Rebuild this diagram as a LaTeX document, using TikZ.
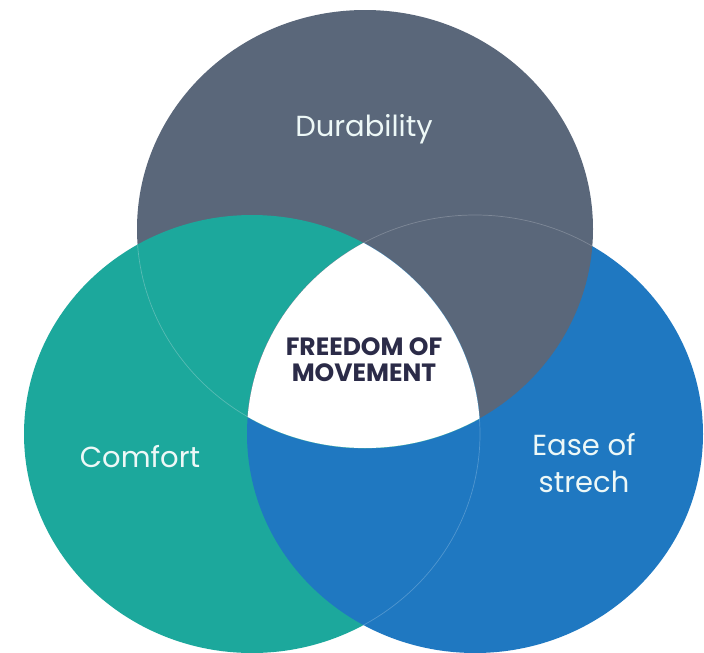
\documentclass[tikz,border=0pt]{standalone}
\usepackage{fontspec}
\setmainfont{Poppins}
\usetikzlibrary{positioning}

\definecolor{slategray}{HTML}{5A677A}
\definecolor{tealgreen}{HTML}{1CA89C}
\definecolor{strongblue}{HTML}{1F78C1}
\definecolor{inkblue}{HTML}{2B2B48}

\tikzset{
  label text/.style={text=white!92!tealgreen,font=\fontsize{29pt}{37pt}\selectfont,align=center,inner sep=0},
  core text/.style={text=inkblue,font=\fontsize{25pt}{26pt}\selectfont\bfseries,align=center,inner sep=0},
  seam/.style={line width=0.7pt}
}

\begin{document}
\begin{tikzpicture}[x=1pt,y=-1pt]
    \pgfmathsetmacro{\radiusx}{228}
    \pgfmathsetmacro{\radiusy}{219}
    \useasboundingbox[fill=white] (0,0) rectangle (704,653);
    \coordinate (durability) at (365,229);
    \coordinate (comfort) at (252,434);
    \coordinate (stretch) at (475,434);
    % base discs
    \fill[tealgreen] (comfort) ellipse (\radiusx pt and \radiusy pt);
    \fill[strongblue] (stretch) ellipse (\radiusx pt and \radiusy pt);
    \fill[slategray] (durability) ellipse (\radiusx pt and \radiusy pt);
    % teal lies over gray
    \begin{scope}
        \clip (durability) ellipse (\radiusx pt and \radiusy pt);
        \fill[tealgreen] (comfort) ellipse (\radiusx pt and \radiusy pt);
    \end{scope}
    % faint seams of the hidden edges
    \begin{scope}
        \clip (comfort) ellipse (\radiusx pt and \radiusy pt);
        \draw[seam,white!25!tealgreen] (durability) ellipse (\radiusx pt and \radiusy pt);
    \end{scope}
    \begin{scope}
        \clip (durability) ellipse (\radiusx pt and \radiusy pt);
        \draw[seam,white!22!slategray] (stretch) ellipse (\radiusx pt and \radiusy pt);
    \end{scope}
    \begin{scope}
        \clip (stretch) ellipse (\radiusx pt and \radiusy pt);
        \draw[seam,white!22!strongblue] (comfort) ellipse (\radiusx pt and \radiusy pt);
    \end{scope}
    % common core
    \begin{scope}
        \clip (durability) ellipse (\radiusx pt and \radiusy pt);
        \clip (comfort) ellipse (\radiusx pt and \radiusy pt);
        \fill[white] (stretch) ellipse (\radiusx pt and \radiusy pt);
    \end{scope}
    \node[label text] (durlabel) at (364,129) {Durability};
    \node[label text] (comlabel) at (140,457) {Comfort};
    \node[label text] (strlabel) at (584,463) {Ease of\\strech};
    \node[core text] (core) at (364,360) {FREEDOM OF\\MOVEMENT};
\end{tikzpicture}
\end{document}
